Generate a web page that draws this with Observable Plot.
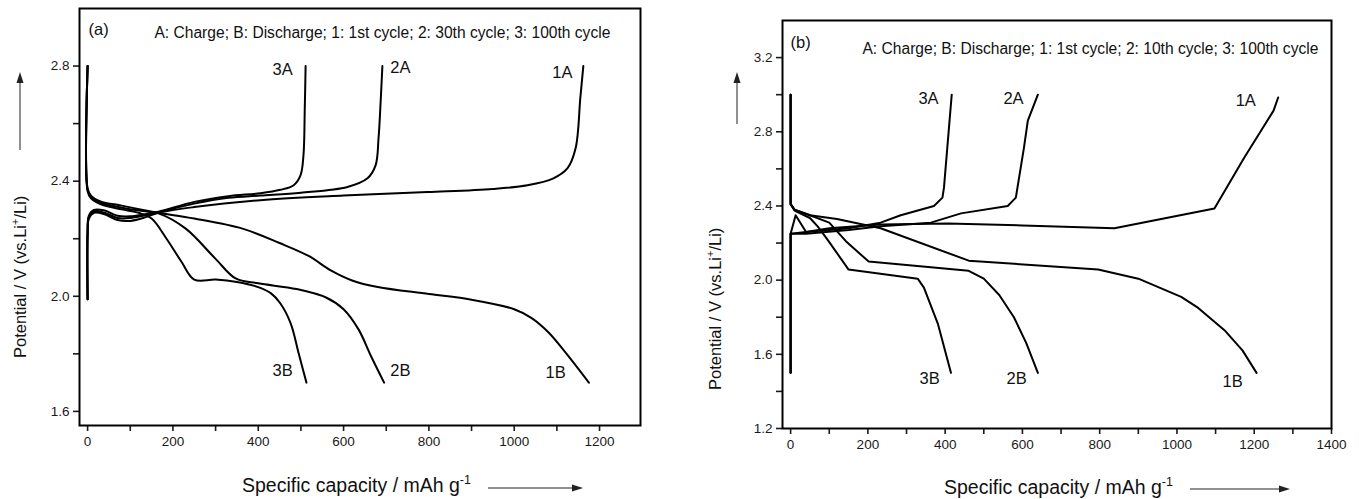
<!DOCTYPE html>
<html><head><meta charset="utf-8">
<script src="https://cdn.jsdelivr.net/npm/d3@7"></script>
<script src="https://cdn.jsdelivr.net/npm/@observablehq/plot@0.6"></script>
<style>
html,body{margin:0;padding:0;background:#fff;}
body{width:1359px;height:499px;position:relative;overflow:hidden;font-family:"Liberation Sans",Arial,sans-serif;color:#111;}
.panel{position:absolute;top:0;}
.ttl{position:absolute;font-size:16.5px;white-space:nowrap;line-height:20px;}
.ttl.big{font-size:19.5px;line-height:22px;}
.ttl sup{font-size:11px;vertical-align:7px;line-height:0;}
.ttl.big sup{font-size:12.5px;vertical-align:8px;}
.rot{transform:rotate(-90deg);transform-origin:0 0;}
.arr{position:absolute;overflow:visible;}
</style></head><body>
<div id="pa" class="panel" style="left:0px"></div>
<div id="pb" class="panel" style="left:680px"></div>

<div class="ttl big" style="left:242px;top:474px">Specific capacity / mAh g<sup>-1</sup></div>
<svg class="arr" style="left:486px;top:480px" width="100" height="16"><line x1="2" y1="8" x2="88" y2="8" stroke="#222" stroke-width="1"/><path d="M97,8 L86,4.5 L86,11.5 Z" fill="#222"/></svg>
<div class="ttl rot" style="left:10px;top:358px">Potential / V (vs.Li<sup>+</sup>/Li)</div>
<svg class="arr" style="left:12px;top:70px" width="16" height="82"><line x1="8" y1="80" x2="8" y2="12" stroke="#222" stroke-width="1"/><path d="M8,2 L4.5,13 L11.5,13 Z" fill="#222"/></svg>

<div class="ttl big" style="left:944px;top:476px">Specific capacity / mAh g<sup>-1</sup></div>
<svg class="arr" style="left:1188px;top:481px" width="106" height="16"><line x1="2" y1="8" x2="92" y2="8" stroke="#222" stroke-width="1"/><path d="M102,8 L91,4.5 L91,11.5 Z" fill="#222"/></svg>
<div class="ttl rot" style="left:705px;top:390px">Potential / V (vs.Li<sup>+</sup>/Li)</div>
<svg class="arr" style="left:729px;top:70px" width="16" height="56"><line x1="8" y1="54" x2="8" y2="12" stroke="#222" stroke-width="1"/><path d="M8,2 L4.5,13 L11.5,13 Z" fill="#222"/></svg>

<script>
// ---------- Panel (a) data: [specific capacity (mAh/g), potential (V)] ----------
const a1A = [[0,1.99],[0,2.22],[3,2.27],[15,2.29],[40,2.285],[70,2.265],[100,2.262],[130,2.272],[166,2.29],[250,2.31],[405,2.334],[600,2.35],[797,2.362],[950,2.373],[1031,2.386],[1092,2.41],[1125,2.445],[1144,2.515],[1155,2.69],[1162,2.8]];
const a2A = [[0,1.99],[0,2.22],[3,2.275],[15,2.295],[40,2.29],[70,2.272],[100,2.272],[130,2.28],[166,2.292],[250,2.322],[330,2.342],[405,2.35],[500,2.36],[609,2.38],[656,2.41],[675,2.455],[682,2.55],[687,2.68],[691,2.8]];
const a3A = [[0,1.99],[0,2.22],[3,2.28],[15,2.3],[40,2.298],[70,2.28],[100,2.278],[130,2.284],[166,2.294],[250,2.328],[330,2.348],[405,2.358],[452,2.37],[483,2.386],[499,2.42],[506,2.49],[509,2.65],[511,2.8]];
const a1B = [[0,2.8],[0,2.375],[8,2.35],[30,2.33],[80,2.315],[130,2.3],[166,2.29],[250,2.27],[363,2.235],[450,2.185],[518,2.14],[570,2.09],[620,2.055],[680,2.032],[800,2.008],[900,1.988],[1000,1.955],[1040,1.925],[1080,1.875],[1120,1.805],[1175,1.7]];
const a2B = [[0,2.8],[0,2.37],[8,2.345],[30,2.325],[80,2.308],[130,2.296],[166,2.288],[230,2.235],[300,2.13],[347,2.062],[400,2.045],[490,2.025],[560,1.995],[600,1.955],[635,1.885],[665,1.79],[695,1.7]];
const a3B = [[0,2.8],[0,2.365],[8,2.34],[30,2.32],[80,2.302],[120,2.29],[150,2.27],[185,2.2],[220,2.12],[250,2.058],[300,2.058],[350,2.05],[400,2.032],[430,2.01],[452,1.975],[476,1.906],[495,1.8],[513,1.7]];

// ---------- Panel (b) data ----------
const b1A = [[0,1.5],[0,2.25],[13,2.35],[40,2.26],[100,2.28],[233,2.3],[407,2.305],[600,2.295],[838,2.28],[1097,2.386],[1174,2.66],[1250,2.914],[1262,2.985]];
const b2A = [[0,1.5],[0,2.25],[40,2.25],[150,2.27],[233,2.29],[363,2.31],[441,2.36],[562,2.4],[583,2.445],[604,2.715],[614,2.86],[640,3.0]];
const b3A = [[0,1.5],[0,2.25],[40,2.26],[150,2.28],[233,2.31],[285,2.35],[371,2.4],[393,2.445],[397,2.5],[417,3.0]];
const b1B = [[0,3.0],[0,2.41],[10,2.38],[50,2.35],[120,2.33],[233,2.28],[461,2.105],[796,2.057],[900,2.008],[1011,1.91],[1055,1.85],[1123,1.73],[1170,1.62],[1206,1.5]];
const b2B = [[0,3.0],[0,2.41],[10,2.38],[50,2.35],[100,2.31],[143,2.21],[202,2.1],[461,2.05],[500,2.008],[540,1.92],[578,1.8],[610,1.66],[640,1.5]];
const b3B = [[0,3.0],[0,2.41],[10,2.375],[50,2.335],[70,2.29],[95,2.22],[150,2.057],[329,2.008],[345,1.96],[381,1.766],[415,1.5]];

// ---------- Curve labels ----------
const curveNames = ["3A","2A","1A","3B","2B","1B"];
const labelCapA = [457, 733, 1113, 457, 733, 1097];
const labelPotA = [2.786, 2.793, 2.776, 1.743, 1.743, 1.736];
const labelCapB = [357, 577, 1178, 360, 585, 1144];
const labelPotB = [2.979, 2.979, 2.968, 1.47, 1.47, 1.453];

// ---------- Panel notes ----------
const panelTags = ["(a)", "(b)"];
const legendNotes = [
  "A: Charge; B: Discharge; 1: 1st cycle; 2: 30th cycle; 3: 100th cycle",
  "A: Charge; B: Discharge; 1: 1st cycle; 2: 10th cycle; 3: 100th cycle"
];

// ---------- Ticks ----------
const xTicksA = [0,100,200,300,400,500,600,700,800,900,1000,1100,1200];
const xTickLabelsA = ["0","","200","","400","","600","","800","","1000","","1200"];
const yTicksA = [1.6,1.8,2.0,2.2,2.4,2.6,2.8];
const yTickLabelsA = ["1.6","","2.0","","2.4","","2.8"];
const xTicksB = [0,100,200,300,400,500,600,700,800,900,1000,1100,1200,1300,1400];
const xTickLabelsB = ["0","","200","","400","","600","","800","","1000","","1200","","1400"];
const yTicksB = [1.2,1.4,1.6,1.8,2.0,2.2,2.4,2.6,2.8,3.0,3.2];
const yTickLabelsB = ["1.2","","1.6","","2.0","","2.4","","2.8","","3.2"];

function rows(curves) {
  const out = [];
  for (const [name, pts] of Object.entries(curves)) for (const [c, v] of pts) out.push({curve: name, cap: c, pot: v});
  return out;
}
function fmt(ticks, labels) {
  return d => { const i = ticks.findIndex(t => Math.abs(t - d) < 1e-9); return i < 0 ? "" : labels[i]; };
}
function labelRows(caps, pots) {
  return curveNames.map((t, i) => ({t, cap: caps[i], pot: pots[i]}));
}

function panel(o) {
  return Plot.plot({
    width: o.width, height: 499,
    marginLeft: o.ml, marginRight: o.mr, marginTop: o.mt, marginBottom: o.mb,
    x: {domain: o.xd},
    y: {domain: o.yd},
    style: {fontFamily: '"Liberation Sans", Arial, sans-serif', fontSize: "13px", color: "#1a1a1a", background: "transparent", overflow: "visible"},
    marks: [
      Plot.axisX({ticks: o.xt, tickFormat: fmt(o.xt, o.xl), tickSize: 6, tickPadding: 5, strokeWidth: 1.6, label: null, fontSize: 13.5}),
      Plot.axisY({ticks: o.yt, tickFormat: fmt(o.yt, o.yl), tickSize: 6, tickPadding: 4, strokeWidth: 1.6, label: null, fontSize: 13.5}),
      Plot.line(o.data, {x: "cap", y: "pot", z: "curve", stroke: "#000", strokeWidth: 2, curve: o.curve}),
      Plot.text(o.labels, {x: "cap", y: "pot", text: "t", fontSize: 16.5, fill: "#111"}),
      Plot.text([o.tag], {x: o.tagX, y: o.tagY, text: d => d, fontSize: 16.5, textAnchor: "start", fill: "#111"}),
      Plot.text([o.note], {x: o.noteX, y: o.noteY, text: d => d, fontSize: 15.6, fill: "#111"}),
      Plot.frame({stroke: "#000", strokeWidth: 2})
    ]
  });
}

document.getElementById("pa").append(panel({
  width: 680, ml: 79, mr: 40, mt: 8, mb: 74,
  xd: [-19, 1296], yd: [1.551, 3.0],
  xt: xTicksA, xl: xTickLabelsA, yt: yTicksA, yl: yTickLabelsA,
  data: rows({"1A": a1A, "2A": a2A, "3A": a3A, "1B": a1B, "2B": a2B, "3B": a3B}),
  curve: "catmull-rom",
  labels: labelRows(labelCapA, labelPotA),
  tag: panelTags[0], tagX: 2, tagY: 2.925,
  note: legendNotes[0], noteX: 691, noteY: 2.915
}));

document.getElementById("pb").append(panel({
  width: 679, ml: 102, mr: 28, mt: 20, mb: 71,
  xd: [-21, 1400], yd: [1.2, 3.4],
  xt: xTicksB, xl: xTickLabelsB, yt: yTicksB, yl: yTickLabelsB,
  data: rows({"1A": b1A, "2A": b2A, "3A": b3A, "1B": b1B, "2B": b2B, "3B": b3B}),
  curve: "linear",
  labels: labelRows(labelCapB, labelPotB),
  tag: panelTags[1], tagX: 0, tagY: 3.28,
  note: legendNotes[1], noteX: 776, noteY: 3.249
}));
</script>
</body></html>
